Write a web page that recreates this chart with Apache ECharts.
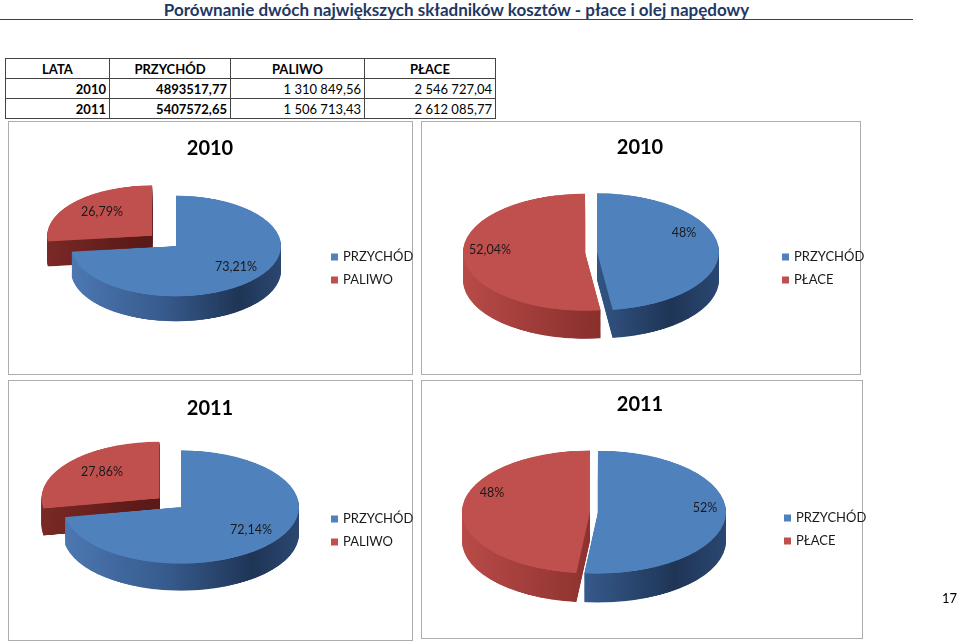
<!DOCTYPE html>
<html>
<head>
<meta charset="utf-8">
<script src="https://cdn.jsdelivr.net/npm/echarts@6/dist/echarts.min.js"></script>
<style>
  body { margin: 0; width: 960px; height: 643px; position: relative; overflow: hidden; background: #fff; font-family: Lato, "Open Sans", sans-serif; }
  #head { position: absolute; left: 0; top: 0; width: 913px; height: 19px; border-bottom: 1px solid #404040;
          text-align: center; font-weight: bold; font-size: 17px; line-height: 20px; color: #1F3864; }
  #tab { position: absolute; left: 5px; top: 58px; border-collapse: collapse; font-size: 13px; color: #000; }
  #tab td { border: 1px solid #444; height: 19px; padding: 0 3px; text-align: right; }
  #tab tr.hd td { text-align: center; font-weight: bold; }
  #tab td.b { font-weight: bold; }
  .box { position: absolute; border: 1px solid #ADADAD; box-sizing: border-box; }
  #pies { position: absolute; left: 0; top: 0; width: 960px; transform-origin: 0 0; }
  #texts { position: absolute; left: 0; top: 0; width: 960px; height: 643px; }
  #page { position: absolute; left: 942px; top: 590px; font-size: 13px; color: #000; }
</style>
</head>
<body>
<div id="head">Porównanie dwóch największych składników kosztów - płace i olej napędowy</div>
<table id="tab"></table>
<div class="box" style="left:8px;top:121px;width:405px;height:254px"></div>
<div class="box" style="left:421px;top:121px;width:440px;height:254px"></div>
<div class="box" style="left:8px;top:380px;width:405px;height:261px"></div>
<div class="box" style="left:421px;top:380px;width:442px;height:259px"></div>
<div id="pies"></div>
<div id="texts"></div>
<div id="page">17</div>
<script>
// table
const colHeads = ['LATA', 'PRZYCHÓD', 'PALIWO', 'PŁACE'];
const lata = ['2010', '2011'];
const przychod = ['4893517,77', '5407572,65'];
const paliwo = ['1 310 849,56', '1 506 713,43'];
const place = ['2 546 727,04', '2 612 085,77'];

// pies (shares in %)
const namesPaliwo = ['PRZYCHÓD', 'PALIWO'];
const namesPlace = ['PRZYCHÓD', 'PŁACE'];
const share2010Paliwo = [73.21, 26.79];
const share2010Place = [47.96, 52.04];
const share2011Paliwo = [72.14, 27.86];
const share2011Place = [51.70, 48.30];
const labels2010Paliwo = ['73,21%', '26,79%'];
const labels2010Place = ['48%', '52,04%'];
const labels2011Paliwo = ['72,14%', '27,86%'];
const labels2011Place = ['52%', '48%'];
const chartTitles = ['2010', '2010', '2011', '2011'];

// build the table
const widths = [104, 121, 134, 131];
let html = '<tr class="hd">' + colHeads.map((h, i) => `<td style="width:${widths[i] - 7}px">${h}</td>`).join('') + '</tr>';
lata.forEach((y, i) => {
  html += `<tr><td class="b">${y}</td><td class="b">${przychod[i]}</td><td>${paliwo[i]}</td><td>${place[i]}</td></tr>`;
});
document.getElementById('tab').innerHTML = html;

const K = 0.48;   // vertical squash of the pie layer (tilt)
const topColors = ['#4F81BD', '#C0504D'];
const blueSide = [[0, '#4D78B2'], [0.45, '#365A8C'], [0.8, '#1F3556'], [1, '#2B4771']];
const redSide = [[0, '#B84B48'], [0.5, '#8E322F'], [1, '#6A2321']];
const redSideDark = [[0, '#7A2926'], [0.4, '#5C1B19'], [1, '#4A1412']];

const pies = [
  { names: namesPaliwo, values: share2010Paliwo, labels: labels2010Paliwo, title: chartTitles[0],
    cx: 176, cy: 246, r: 105, depth: 25, offset: 32, explode: [false, true], red: redSideDark,
    titleX: 210, titleY: 147, legendX: 331, legendY: 250, labelPos: [[236, 267], [102, 212]] },
  { names: namesPlace, values: share2010Place, labels: labels2010Place, title: chartTitles[1],
    cx: 591, cy: 252, r: 122, depth: 28, offset: 6, explode: [true, true], red: redSide,
    titleX: 640, titleY: 146, legendX: 782, legendY: 250, labelPos: [[684, 233], [490, 250]] },
  { names: namesPaliwo, values: share2011Paliwo, labels: labels2011Paliwo, title: chartTitles[2],
    cx: 181, cy: 507, r: 118, depth: 27, offset: 28, explode: [false, true], red: redSideDark,
    titleX: 210, titleY: 407, legendX: 331, legendY: 512, labelPos: [[251, 530], [102, 472]] },
  { names: namesPlace, values: share2011Place, labels: labels2011Place, title: chartTitles[3],
    cx: 594, cy: 512, r: 128, depth: 29, offset: 4, explode: [true, true], red: redSide,
    titleX: 640, titleY: 403, legendX: 784, legendY: 511, labelPos: [[705, 508], [492, 493]] }
];

function grad(p, stops) {
  return { type: 'linear', x: p.cx - p.r, y: 0, x2: p.cx + p.r, y2: 0, global: true,
           colorStops: stops.map(s => ({ offset: s[0], color: s[1] })) };
}

// pie layer: stacked copies give the 3D side walls
const pieSeries = [];
pies.forEach(p => {
  for (let j = 0; j <= p.depth; j++) {
    const top = j === p.depth;
    pieSeries.push({
      type: 'pie', silent: true, animation: false,
      center: [p.cx, (p.cy + p.depth - j) / K],
      radius: [0, p.r],
      startAngle: 90, clockwise: true,
      selectedMode: 'multiple', selectedOffset: p.offset,
      label: { show: false }, labelLine: { show: false },
      emphasis: { disabled: true },
      itemStyle: { borderWidth: 0 },
      data: p.values.map((v, i) => {
        const c = top ? topColors[i] : grad(p, i === 0 ? blueSide : p.red);
        return { value: v, name: p.names[i], selected: p.explode[i],
                 itemStyle: { color: c, borderWidth: 0 }, select: { itemStyle: { color: c, borderWidth: 0 } } };
      })
    });
  }
});

const pieDom = document.getElementById('pies');
pieDom.style.height = (643 / K) + 'px';
pieDom.style.transform = 'scaleY(' + K + ')';
echarts.init(pieDom).setOption({ animation: false, series: pieSeries });

// text layer: titles, legends, percentage labels
const texts = echarts.init(document.getElementById('texts'));
texts.setOption({
  animation: false,
  title: pies.map(p => ({
    text: p.title, left: p.titleX, top: p.titleY - 8, textAlign: 'center', padding: 0,
    textStyle: { fontFamily: 'Lato', fontSize: 20, fontWeight: 'bold', color: '#000' }
  })),
  legend: pies.map(p => ({
    data: p.names, orient: 'vertical', left: p.legendX, top: p.legendY, padding: 0,
    icon: 'rect', itemWidth: 7, itemHeight: 7, itemGap: 9, selectedMode: false,
    textStyle: { fontFamily: 'Lato', fontSize: 13, lineHeight: 14, color: '#1A1A1A' }
  })),
  series: pies.map(p => ({
    type: 'pie', silent: true, radius: [0, 0], center: [p.cx, p.cy],
    label: { show: false }, labelLine: { show: false },
    data: p.values.map((v, i) => ({ value: v, name: p.names[i], itemStyle: { color: topColors[i] } }))
  })),
  graphic: pies.flatMap(p => p.labels.map((t, i) => ({
    type: 'text', x: p.labelPos[i][0], y: p.labelPos[i][1],
    style: { text: t, fontFamily: 'Lato', fontSize: 12.5, fill: '#1A1A1A', align: 'center', verticalAlign: 'middle' }
  })))
});
</script>
</body>
</html>
